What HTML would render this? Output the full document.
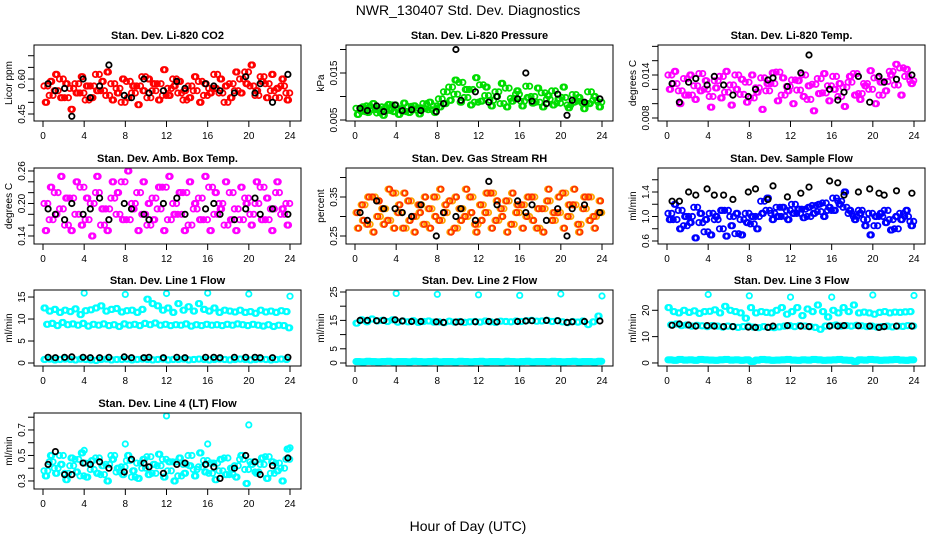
<!DOCTYPE html>
<html><head><meta charset="utf-8"><style>
html,body{margin:0;padding:0;background:#fff}
svg{display:block;font-family:"Liberation Sans",sans-serif}
</style></head><body>
<svg id="chart" width="936" height="540" viewBox="0 0 936 540" xmlns="http://www.w3.org/2000/svg">
<rect x="0" y="0" width="936" height="540" fill="#fff"/>
<text x="468" y="15" font-size="14" text-anchor="middle">NWR_130407  Std. Dev. Diagnostics</text>
<text x="468" y="531" font-size="14" text-anchor="middle">Hour of Day (UTC)</text>
</svg>
<script>
const hoursA = [0.1,0.6,1.1,1.6,2.1,2.6,3.1,3.6,4.1,4.6,5.1,5.6,6.1,6.6,7.1,7.6,8.1,8.6,9.1,9.6,10.1,10.6,11.1,11.6,12.1,12.6,13.1,13.6,14.1,14.6,15.1,15.6,16.1,16.6,17.1,17.6,18.1,18.6,19.1,19.6,20.1,20.6,21.1,21.6,22.1,22.6,23.1,23.6];
const hoursB = [0.35,0.85,1.35,1.85,2.35,2.85,3.35,3.85,4.35,4.85,5.35,5.85,6.35,6.85,7.35,7.85,8.35,8.85,9.35,9.85,10.35,10.85,11.35,11.85,12.35,12.85,13.35,13.85,14.35,14.85,15.35,15.85,16.35,16.85,17.35,17.85,18.35,18.85,19.35,19.85,20.35,20.85,21.35,21.85,22.35,22.85,23.35,23.85];
const hoursC = [0.22,0.72,1.22,1.72,2.22,2.72,3.22,3.72,4.22,4.72,5.22,5.72,6.22,6.72,7.22,7.72,8.22,8.72,9.22,9.72,10.22,10.72,11.22,11.72,12.22,12.72,13.22,13.72,14.22,14.72,15.22,15.72,16.22,16.72,17.22,17.72,18.22,18.72,19.22,19.72,20.22,20.72,21.22,21.72,22.22,22.72,23.22,23.72];
const hoursD = [0.47,0.97,1.47,1.97,2.47,2.97,3.47,3.97,4.47,4.97,5.47,5.97,6.47,6.97,7.47,7.97,8.47,8.97,9.47,9.97,10.47,10.97,11.47,11.97,12.47,12.97,13.47,13.97,14.47,14.97,15.47,15.97,16.47,16.97,17.47,17.97,18.47,18.97,19.47,19.97,20.47,20.97,21.47,21.97,22.47,22.97,23.47,23.97];
const hoursK = [0.5,1.2,2.1,2.8,3.9,4.6,5.5,6.4,7.9,8.6,9.8,10.3,11.7,13.0,13.8,15.8,16.6,17.2,18.6,19.7,20.6,21.1,22.3,23.8];
const hoursPeak = [4,8,12,16,20,24];

const co2A = [0.57,0.53,0.55,0.60,0.52,0.56,0.58,0.54,0.51,0.57,0.62,0.55,0.53,0.58,0.56,0.50,0.59,0.54,0.57,0.61,0.52,0.55,0.58,0.53,0.56,0.60,0.54,0.51,0.57,0.55,0.59,0.53,0.56,0.62,0.54,0.50,0.58,0.55,0.60,0.63,0.57,0.53,0.61,0.58,0.55,0.52,0.57,0.54];
const co2B = [0.50,0.59,0.62,0.52,0.58,0.47,0.54,0.61,0.57,0.52,0.55,0.59,0.63,0.51,0.54,0.60,0.52,0.57,0.49,0.55,0.60,0.58,0.51,0.64,0.53,0.57,0.59,0.55,0.52,0.61,0.50,0.58,0.54,0.56,0.60,0.57,0.52,0.63,0.54,0.58,0.66,0.55,0.59,0.52,0.62,0.56,0.60,0.51];
const co2K = [0.58,0.55,0.56,0.44,0.60,0.52,0.57,0.66,0.53,0.52,0.60,0.54,0.55,0.59,0.56,0.58,0.57,0.55,0.54,0.61,0.54,0.58,0.50,0.62];
const presA = [.0075,.0068,.0080,.0072,.0065,.0078,.0070,.0082,.0074,.0068,.0079,.0071,.0076,.0085,.0072,.0080,.0095,.0110,.0120,.0105,.0130,.0098,.0115,.0088,.0125,.0102,.0092,.0110,.0085,.0118,.0096,.0105,.0090,.0122,.0100,.0088,.0108,.0094,.0112,.0086,.0098,.0082,.0104,.0090,.0085,.0110,.0092,.0088];
const presB = [.0062,.0078,.0066,.0085,.0074,.0060,.0083,.0068,.0062,.0086,.0066,.0080,.0063,.0074,.0088,.0066,.0078,.0085,.0092,.0135,.0088,.0115,.0082,.0140,.0090,.0120,.0080,.0100,.0128,.0078,.0090,.0112,.0080,.0098,.0086,.0118,.0078,.0102,.0082,.0095,.0120,.0076,.0088,.0098,.0074,.0085,.0100,.0078];
const presK = [.0075,.0070,.0080,.0068,.0082,.0070,.0072,.0070,.0068,.0085,.0200,.0092,.0110,.0088,.0100,.0095,.0150,.0090,.0085,.0105,.0060,.0092,.0088,.0095];
const tempA = [.0140,.0128,.0118,.0135,.0112,.0125,.0142,.0120,.0110,.0132,.0138,.0116,.0126,.0140,.0113,.0130,.0108,.0122,.0136,.0118,.0128,.0144,.0112,.0124,.0133,.0119,.0140,.0106,.0127,.0135,.0115,.0125,.0138,.0110,.0123,.0130,.0142,.0114,.0128,.0120,.0136,.0112,.0131,.0145,.0126,.0150,.0138,.0132];
const tempB = [.0120,.0145,.0100,.0112,.0140,.0106,.0118,.0132,.0095,.0122,.0108,.0145,.0098,.0120,.0134,.0102,.0140,.0116,.0092,.0128,.0143,.0104,.0136,.0118,.0100,.0132,.0110,.0125,.0090,.0114,.0142,.0104,.0120,.0128,.0096,.0138,.0112,.0106,.0125,.0146,.0100,.0130,.0118,.0140,.0155,.0112,.0148,.0128];
const tempK = [.0128,.0102,.0130,.0135,.0126,.0138,.0126,.0112,.0110,.0120,.0133,.0136,.0124,.0143,.0168,.0120,.0105,.0116,.0138,.0102,.0138,.0130,.0134,.0140];
const ambA = [.20,.17,.22,.19,.16,.21,.18,.23,.17,.20,.22,.16,.19,.21,.18,.24,.17,.20,.22,.18,.16,.21,.19,.23,.17,.20,.18,.22,.16,.19,.21,.17,.23,.18,.20,.16,.22,.19,.17,.21,.18,.20,.23,.17,.19,.22,.18,.20];
const ambB = [.15,.23,.18,.25,.21,.15,.24,.16,.21,.14,.25,.19,.15,.24,.22,.17,.26,.19,.15,.24,.20,.17,.23,.15,.25,.18,.22,.15,.24,.20,.17,.25,.15,.22,.19,.24,.17,.15,.23,.20,.16,.24,.17,.21,.15,.24,.19,.16];
const ambK = [.19,.18,.17,.20,.18,.19,.21,.17,.20,.19,.18,.17,.20,.21,.18,.19,.20,.18,.17,.19,.21,.18,.19,.18];
const rhA = [.31,.33,.28,.35,.30,.32,.29,.36,.31,.27,.34,.30,.33,.28,.32,.35,.29,.31,.34,.27,.32,.30,.35,.28,.33,.31,.36,.29,.32,.34,.28,.31,.33,.30,.35,.27,.32,.34,.29,.31,.36,.30,.33,.28,.32,.35,.30,.31];
const rhB = [.27,.29,.35,.26,.34,.28,.37,.27,.33,.36,.29,.26,.31,.35,.27,.30,.37,.33,.26,.35,.29,.37,.31,.26,.29,.36,.27,.34,.30,.26,.36,.33,.27,.35,.29,.32,.26,.37,.31,.35,.27,.33,.37,.26,.35,.29,.27,.34];
const rhK = [.31,.29,.34,.32,.32,.31,.30,.33,.25,.31,.30,.32,.29,.39,.33,.34,.31,.33,.29,.32,.25,.32,.33,.31];
const flowA = [1.05,0.95,1.10,0.85,1.00,1.15,0.90,0.75,1.05,0.95,0.80,1.10,1.00,0.72,0.95,1.05,0.88,1.00,1.25,1.10,1.05,1.15,1.00,1.10,1.20,1.05,1.12,1.00,1.18,1.08,1.22,1.10,1.30,1.25,1.15,1.05,1.00,1.10,0.95,1.05,0.85,1.00,1.10,0.95,0.80,1.05,1.00,0.92];
const flowB = [0.95,1.20,0.80,1.00,0.90,0.65,1.05,0.95,0.70,1.00,1.10,0.68,0.85,1.05,0.70,0.90,1.00,0.80,1.05,1.30,0.95,1.00,1.15,0.95,1.05,1.12,0.98,1.15,1.05,1.20,1.00,1.15,1.10,1.20,1.40,1.10,0.95,1.05,0.85,0.70,1.00,1.05,0.90,0.78,1.00,0.95,1.10,0.85];
const flowK = [1.25,1.25,1.40,1.35,1.45,1.35,1.35,1.28,1.40,1.45,1.28,1.50,1.32,1.38,1.48,1.58,1.55,1.35,1.40,1.45,1.38,1.35,1.42,1.38];
const l1A = [12.5,11.8,12.2,11.5,12.0,11.7,12.3,11.0,11.9,12.1,12.5,13.0,11.8,12.2,12.4,11.6,11.9,12.0,11.5,12.2,14.5,13.5,13.0,12.0,12.5,11.5,13.5,12.0,12.8,11.8,13.5,12.2,11.8,12.5,11.5,12.0,11.8,11.6,12.0,11.5,11.7,11.3,12.0,11.6,11.8,11.5,11.9,11.7];
const l1B = [8.8,9.0,8.5,9.2,8.7,8.9,8.6,9.0,8.4,8.8,8.6,8.9,8.5,8.7,8.3,8.9,8.6,8.8,8.5,9.0,8.7,9.1,8.6,8.8,8.5,8.7,8.6,8.9,8.4,8.7,8.5,8.8,8.6,8.7,8.5,8.8,8.6,8.9,8.7,8.5,8.8,8.6,8.4,8.7,8.3,8.6,8.5,8.0];
const l1C = [0.8,0.9,0.7,0.8,0.9,0.8,0.7,0.9,0.8,0.7,0.6,0.8,0.9,0.7,0.8,0.8,0.9,0.7,0.8,0.9,0.8,0.7,0.8,0.9,0.7,0.8,0.8,0.9,0.7,0.8,0.9,0.8,0.7,0.8,0.9,0.8,0.7,0.8,0.9,0.8,0.7,0.8,0.9,0.8,0.7,0.8,0.9,0.8];
const l1K = [1.3,1.2,1.3,1.4,1.3,1.2,1.2,1.3,1.4,1.2,1.2,1.3,1.2,1.3,1.2,1.3,1.3,1.2,1.3,1.3,1.3,1.2,1.2,1.3];
const l1P = [15.9,15.6,15.8,15.9,15.7,15.2];
const l2A = [14.0,15.2,14.5,15.5,14.8,15.0,14.6,15.2,14.4,14.8,14.5,14.9,14.3,14.6,14.8,14.4,14.5,14.2,14.7,14.4,14.6,14.3,14.5,14.6,14.4,14.8,14.5,14.3,14.7,14.6,14.5,14.8,14.6,14.9,15.0,14.7,14.8,15.0,14.6,14.9,14.5,14.2,14.6,14.4,14.8,13.5,14.5,16.5];
const l2C = [0.5,0.4,0.6,0.5,0.4,0.5,0.6,0.4,0.5,0.5,0.4,0.6,0.5,0.4,0.5,0.6,0.4,0.5,0.5,0.4,0.6,0.5,0.4,0.5,0.6,0.4,0.5,0.5,0.4,0.6,0.5,0.4,0.5,0.6,0.4,0.5,0.5,0.4,0.6,0.5,0.4,0.5,0.6,0.4,0.5,0.5,0.4,0.6];
const l2K = [15.0,15.0,14.9,15.0,15.2,14.8,14.6,14.6,14.5,14.3,14.4,14.5,14.5,14.6,14.5,14.6,14.8,14.9,15.0,14.9,14.3,14.5,14.6,14.8];
const l2P = [24.5,24.2,24.0,23.8,24.3,23.6];
const l3A = [21.0,19.5,19.0,20.0,19.2,19.8,18.8,19.5,19.6,20.2,19.0,21.5,20.0,19.5,19.0,17.0,21.0,19.0,19.5,19.2,19.0,20.0,21.0,18.5,19.5,21.0,18.0,20.5,19.5,22.0,19.5,17.5,20.0,19.0,21.0,19.5,22.0,19.0,19.3,19.0,18.5,19.2,19.5,19.0,19.3,19.2,19.4,19.5];
const l3B = [14.5,14.8,14.2,14.4,14.0,14.3,14.1,13.8,14.2,14.0,13.6,14.0,13.8,13.5,13.8,14.0,13.6,13.4,13.8,13.5,13.4,13.7,14.0,14.2,13.8,14.2,14.0,13.8,13.5,12.8,14.0,14.2,14.4,14.0,14.2,14.0,14.3,14.1,13.8,14.0,13.6,13.8,14.0,13.7,14.0,13.9,14.2,14.0];
const l3C = [1.2,1.0,1.3,1.1,1.2,1.0,1.3,1.2,1.1,1.0,1.2,1.3,1.1,1.2,1.0,1.2,0.6,1.1,1.3,1.2,1.0,1.1,1.2,1.3,1.1,1.0,1.2,1.1,1.3,1.2,1.0,1.1,1.2,1.3,1.1,1.0,0.6,1.2,1.1,1.3,1.2,1.0,1.1,1.2,1.3,1.1,1.0,1.2];
const l3K = [14.3,14.8,14.4,14.0,14.2,14.0,13.8,13.8,13.6,13.5,13.5,14.0,14.2,14.0,13.8,14.0,14.0,14.2,14.1,14.0,13.5,13.8,14.0,14.0];
const l3P = [26.0,25.5,25.0,25.0,25.8,25.6];
const l4A = [0.38,0.45,0.40,0.50,0.36,0.42,0.47,0.34,0.44,0.39,0.48,0.35,0.43,0.50,0.37,0.41,0.46,0.33,0.44,0.40,0.49,0.36,0.42,0.47,0.38,0.45,0.34,0.43,0.50,0.39,0.41,0.46,0.36,0.44,0.38,0.48,0.35,0.42,0.47,0.39,0.45,0.37,0.43,0.49,0.36,0.44,0.40,0.47];
const l4B = [0.34,0.50,0.36,0.43,0.31,0.48,0.37,0.52,0.33,0.46,0.36,0.42,0.30,0.47,0.40,0.35,0.50,0.38,0.32,0.47,0.35,0.43,0.51,0.33,0.45,0.30,0.48,0.36,0.42,0.34,0.52,0.37,0.44,0.31,0.47,0.35,0.40,0.33,0.50,0.28,0.43,0.36,0.48,0.32,0.45,0.38,0.30,0.55];
const l4K = [0.43,0.53,0.35,0.35,0.44,0.43,0.45,0.40,0.37,0.47,0.44,0.41,0.36,0.43,0.44,0.43,0.41,0.32,0.40,0.50,0.45,0.35,0.42,0.48];
const l4P = [0.54,0.59,0.81,0.59,0.74,0.56];

const tickHours = [0,4,8,12,16,20,24];
const p1Ticks=[0.45,0.50,0.55,0.60,0.65,0.70], p1Labels=["0.45","","","0.60","",""];
const p2Ticks=[0.005,0.010,0.015,0.020], p2Labels=["0.005","","0.015",""];
const p3Ticks=[0.008,0.010,0.012,0.014,0.016,0.018], p3Labels=["0.008","","","0.014","",""];
const p4Ticks=[0.14,0.16,0.18,0.20,0.22,0.24,0.26], p4Labels=["0.14","","","0.20","","","0.26"];
const p5Ticks=[0.25,0.30,0.35,0.40], p5Labels=["0.25","","0.35",""];
const p6Ticks=[0.6,0.8,1.0,1.2,1.4,1.6], p6Labels=["0.6","","1.0","","1.4",""];
const p7Ticks=[0,5,10,15], p7Labels=["0","5","10","15"];
const p8Ticks=[0,5,10,15,20,25], p8Labels=["0","5","","15","","25"];
const p9Ticks=[0,10,20], p9Labels=["0","10","20"];
const p10Ticks=[0.3,0.4,0.5,0.6,0.7,0.8], p10Labels=["0.3","","0.5","","0.7",""];

const NS="http://www.w3.org/2000/svg";
const svg=document.getElementById('chart');
function mk(tag,attrs,parent){const e=document.createElementNS(NS,tag);for(const k in attrs)e.setAttribute(k,attrs[k]);(parent||svg).appendChild(e);return e;}
function cloud(color,a,b){return [[color,hoursA,a],[color,hoursB,b],[color,hoursC,b],[color,hoursD,a]];}

const panels=[
 {name:'co2',title:'Stan. Dev. Li-820 CO2',ylab:'Licor ppm',col:0,row:0,ymin:0.42,ymax:0.746,ticks:p1Ticks,labels:p1Labels,
  series:[...cloud('#ff0000',co2A,co2B),['#000',hoursK,co2K]]},
 {name:'pressure',title:'Stan. Dev. Li-820 Pressure',ylab:'kPa',col:1,row:0,ymin:0.00479,ymax:0.02096,ticks:p2Ticks,labels:p2Labels,
  series:[...cloud('#00dd00',presA,presB),['#000',hoursK,presK]]},
 {name:'temp',title:'Stan. Dev. Li-820 Temp.',ylab:'degrees C',col:2,row:0,ymin:0.00758,ymax:0.01819,ticks:p3Ticks,labels:p3Labels,
  series:[...cloud('#ff00ff',tempA,tempB),['#000',hoursK,tempK]]},
 {name:'amb-box-temp',title:'Stan. Dev. Amb. Box Temp.',ylab:'degrees C',col:0,row:1,ymin:0.1252,ymax:0.2655,ticks:p4Ticks,labels:p4Labels,
  series:[...cloud('#ff00ff',ambA,ambB),['#000',hoursK,ambK]]},
 {name:'gas-rh',title:'Stan. Dev. Gas Stream RH',ylab:'percent',col:1,row:1,ymin:0.2295,ymax:0.4244,ticks:p5Ticks,labels:p5Labels,
  series:[...cloud('#ffa500',rhA,rhB),['#ff3300',hoursC,rhA],['#ff3300',hoursB,rhB],['#000',hoursK,rhK]]},
 {name:'sample-flow',title:'Stan. Dev. Sample Flow',ylab:'ml/min',col:2,row:1,ymin:0.551,ymax:1.792,ticks:p6Ticks,labels:p6Labels,
  series:[...cloud('#0000ff',flowA,flowB),['#000',hoursK,flowK]]},
 {name:'line1-flow',title:'Stan. Dev. Line 1 Flow',ylab:'ml/min',col:0,row:2,ymin:-0.68,ymax:16.6,ticks:p7Ticks,labels:p7Labels,
  series:[['#00ffff',hoursA,l1A],['#00ffff',hoursC,l1A],['#00ffff',hoursB,l1B],['#00ffff',hoursD,l1B],['#00ffff',hoursA,l1C],['#00ffff',hoursC,l1C],['#00ffff',hoursPeak,l1P],['#000',hoursK,l1K]]},
 {name:'line2-flow',title:'Stan. Dev. Line 2 Flow',ylab:'ml/min',col:1,row:2,ymin:-1.06,ymax:25.7,ticks:p8Ticks,labels:p8Labels,
  series:[['#00ffff',hoursA,l2A],['#00ffff',hoursC,l2A],['#00ffff',hoursA,l2C],['#00ffff',hoursB,l2C],['#00ffff',hoursC,l2C],['#00ffff',hoursD,l2C],['#00ffff',hoursPeak,l2P],['#000',hoursK,l2K]]},
 {name:'line3-flow',title:'Stan. Dev. Line 3 Flow',ylab:'ml/min',col:2,row:2,ymin:-1.15,ymax:27.7,ticks:p9Ticks,labels:p9Labels,
  series:[['#00ffff',hoursA,l3A],['#00ffff',hoursC,l3A],['#00ffff',hoursB,l3B],['#00ffff',hoursD,l3B],['#00ffff',hoursA,l3C],['#00ffff',hoursB,l3C],['#00ffff',hoursC,l3C],['#00ffff',hoursD,l3C],['#00ffff',hoursPeak,l3P],['#000',hoursK,l3K]]},
 {name:'line4-flow',title:'Stan. Dev. Line 4 (LT) Flow',ylab:'ml/min',col:0,row:3,ymin:0.237,ymax:0.833,ticks:p10Ticks,labels:p10Labels,
  series:[...cloud('#00ffff',l4A,l4B),['#000',hoursK,l4K],['#00ffff',hoursPeak,l4P]]}
];
const lefts=[34,346,658], tops=[45,168,290,413], W=267, H=76;

panels.forEach(p=>{
  const L=lefts[p.col], T=tops[p.row], B=T+H;
  const g=mk('g',{});
  
  
  const xs=h=>L+9+h*(247/24);
  const ys=v=>B-(v-p.ymin)/(p.ymax-p.ymin)*H;
  const clip=mk('clipPath',{id:'c-'+p.name},g);
  mk('rect',{x:L,y:T,width:W,height:H},clip);
  const pts=mk('g',{'clip-path':'url(#c-'+p.name+')'},g);
  
  
  p.series.forEach(s=>{
    const [color,hx,vals]=s;
    vals.forEach((v,i)=>{
      const c=mk('circle',{cx:xs(hx[i]).toFixed(1),cy:ys(v).toFixed(1),r:2.7,fill:'none',stroke:color,'stroke-width':1.8},pts);
      
      
    });
  });
  const box=mk('rect',{x:L,y:T,width:W,height:H,fill:'none',stroke:'#000','stroke-width':1},g);
  
  
  const t=mk('text',{x:L+W/2,y:T-6,'font-size':11,'font-weight':'bold','text-anchor':'middle'},g);
  t.textContent=p.title;
  
  
  const xa=mk('g',{},g);
  
  
  mk('line',{x1:xs(0),x2:xs(24),y1:B,y2:B,stroke:'#000'},xa);
  tickHours.forEach(h=>{
    mk('line',{x1:xs(h),x2:xs(h),y1:B,y2:B+6,stroke:'#000'},xa);
    const tl=mk('text',{x:xs(h),y:B+18,'font-size':10,'text-anchor':'middle'},xa);
    tl.textContent=String(h);
    
    
  });
  const ya=mk('g',{},g);
  
  
  mk('line',{x1:L,x2:L,y1:ys(p.ticks[0]),y2:ys(p.ticks[p.ticks.length-1]),stroke:'#000'},ya);
  p.ticks.forEach((v,i)=>{
    const y=ys(v);
    mk('line',{x1:L-6,x2:L,y1:y,y2:y,stroke:'#000'},ya);
    if(p.labels[i]){
      const tl=mk('text',{x:L-9,y:y,'font-size':10,'text-anchor':'middle',transform:'rotate(-90 '+(L-9)+' '+y+')'},ya);
      tl.textContent=p.labels[i];
      
      
    }
  });
  const yl=mk('text',{x:L-22,y:T+H/2,'font-size':10,'text-anchor':'middle',transform:'rotate(-90 '+(L-22)+' '+(T+H/2)+')'},g);
  yl.textContent=p.ylab;
  
  
});
</script>
</body></html>
